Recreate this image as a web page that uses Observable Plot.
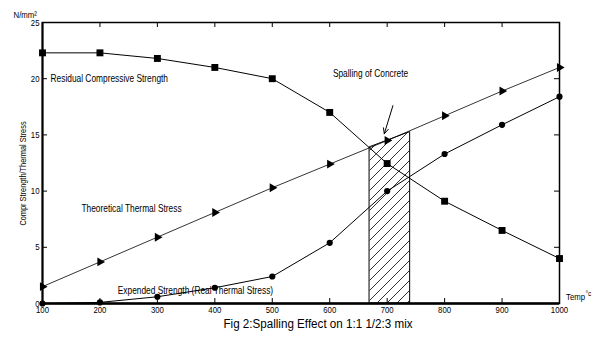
<!DOCTYPE html>
<html>
<head>
<meta charset="utf-8">
<script src="https://cdn.jsdelivr.net/npm/d3@7"></script>
<script src="https://cdn.jsdelivr.net/npm/@observablehq/plot@0.6"></script>
<style>
  html, body { margin: 0; padding: 0; background: #fff; }
</style>
</head>
<body>
<div id="chart"></div>
<script>
// ---- data ----
const temps = [100, 200, 300, 400, 500, 600, 700, 800, 900, 1000];
const residual = [22.3, 22.3, 21.8, 21.0, 20.0, 17.0, 12.45, 9.1, 6.5, 4.0];
const theoretical = [1.5, 3.7, 5.9, 8.1, 10.3, 12.4, 14.5, 16.7, 18.9, 21.0];
const expended = [0, 0.1, 0.6, 1.4, 2.4, 5.4, 10.0, 13.3, 15.9, 18.4];

const spallX = [670, 740];
const spallTop = [13.9, 15.25];

const arrowFrom = [710, 17.6];
const arrowTo = [695, 15.1];

const xTicks = [100, 200, 300, 400, 500, 600, 700, 800, 900, 1000];
const yTicks = [0, 5, 10, 15, 20, 25];
const innerX = [200, 300, 400, 500, 600, 700, 800, 900];
const innerY = [5, 10, 15, 20];

const startLabels = [
  {text: "Residual Compressive Strength", x: 114, y: 20.0},
  {text: "Expended Strength (Real Thermal Stress)", x: 231, y: 1.15}
];
const middleLabels = [
  {text: "Spalling of Concrete", x: 671, y: 20.4},
  {text: "Theoretical Thermal Stress", x: 255, y: 8.45}
];
const yTitle = "Compr Strength/Thermal Stress";
const yUnit = "N/mm\u00b2";
const xTitle = "Temp";
const xUnit = "\u00b0c";
const caption = "Fig 2:Spalling Effect on 1:1 1/2:3 mix";

// ---- build tables ----
const rows = (vals) => temps.map((t, i) => ({t, v: vals[i]}));
const resRows = rows(residual);
const theoRows = rows(theoretical);
const expRows = rows(expended);
const spallRows = spallX.map((x, i) => ({x, top: spallTop[i]}));

const font = "'Liberation Sans', Arial, sans-serif";
const W = 600, H = 339;
const mL = 42, mR = 41, mT = 22, mB = 36;
const fw = W - mL - mR, fh = H - mT - mB;

const plot = Plot.plot({
  width: W,
  height: H,
  marginLeft: mL,
  marginRight: mR,
  marginTop: mT,
  marginBottom: mB,
  style: {fontFamily: font, fontSize: "9.5px", color: "black", background: "white", overflow: "visible"},
  x: {domain: [100, 1000]},
  y: {domain: [0, 25]},
  marks: [
    // hatched spalling area
    Plot.areaY(spallRows, {x: "x", y1: 0, y2: "top", fill: "url(#hatch)", stroke: "black", strokeWidth: 1, curve: "linear"}),
    // series lines
    Plot.line(resRows, {x: "t", y: "v", stroke: "black", strokeWidth: 1}),
    Plot.line(theoRows, {x: "t", y: "v", stroke: "black", strokeWidth: 0.8}),
    Plot.line(expRows, {x: "t", y: "v", stroke: "black", strokeWidth: 1}),
    // markers
    Plot.dot(resRows, {x: "t", y: "v", symbol: "square", r: 3.9, fill: "black", stroke: "none"}),
    Plot.dot(theoRows, {x: "t", y: "v", symbol: "triangle", r: 3.3, rotate: 90, fill: "black", stroke: "none"}),
    Plot.dot(expRows, {x: "t", y: "v", symbol: "circle", r: 3.1, fill: "black", stroke: "none"}),
    // arrow
    Plot.arrow([0], {x1: () => arrowFrom[0], y1: () => arrowFrom[1], x2: () => arrowTo[0], y2: () => arrowTo[1], stroke: "black", strokeWidth: 1, headLength: 9, headAngle: 50}),
    // frame
    Plot.frame({stroke: "black", strokeWidth: 1.5}),
    Plot.ruleY([0], {stroke: "black", strokeWidth: 2.5}),
    Plot.ruleX([100], {stroke: "black", strokeWidth: 2}),
    // inward ticks
    Plot.tickY(innerY, {y: d => d, insetRight: fw - 5, stroke: "black", strokeWidth: 1}),
    Plot.tickY(innerY, {y: d => d, insetLeft: fw - 5, stroke: "black", strokeWidth: 1}),
    Plot.tickX(innerX, {x: d => d, insetBottom: fh - 5, stroke: "black", strokeWidth: 1}),
    Plot.tickX(innerX, {x: d => d, insetTop: fh - 5, stroke: "black", strokeWidth: 1}),
    // tick labels
    Plot.axisX(xTicks, {anchor: "bottom", tickSize: 0, tickPadding: 3, fontSize: 9.5, tickFormat: d => String(d), label: null}),
    Plot.axisY(yTicks, {anchor: "left", tickSize: 0, tickPadding: 3, fontSize: 9.5, tickFormat: d => String(d), label: null}),
    // series labels
    Plot.text(startLabels, {x: "x", y: "y", text: "text", textAnchor: "start", fontSize: 10.2, fill: "black"}),
    Plot.text(middleLabels, {x: "x", y: "y", text: "text", textAnchor: "middle", fontSize: 10.2, fill: "black"}),
    // axis titles
    Plot.text([yTitle], {frameAnchor: "left", textAnchor: "middle", rotate: -90, dx: -19, dy: 10.5, fontSize: 9, fill: "black"}),
    Plot.text([yUnit], {frameAnchor: "top-left", textAnchor: "start", dx: -29, dy: -11, fontSize: 9.5, fill: "black"}),
    Plot.text([xTitle], {frameAnchor: "bottom-right", textAnchor: "start", dx: 6.5, dy: -4, fontSize: 9.5, fill: "black"}),
    Plot.text([xUnit], {frameAnchor: "bottom-right", textAnchor: "start", dx: 26, dy: -8, fontSize: 8, fill: "black"}),
    // caption
    Plot.text([caption], {frameAnchor: "bottom", textAnchor: "middle", dx: 17, dy: 24.5, fontSize: 12.5, fill: "black"})
  ]
});

// hatch pattern
const ns = "http://www.w3.org/2000/svg";
const defs = document.createElementNS(ns, "defs");
defs.innerHTML = `<pattern id="hatch" patternUnits="userSpaceOnUse" width="10" height="10">
  <path d="M-1,11 L11,-1 M-6,6 L6,-6 M4,16 L16,4" stroke="black" stroke-width="0.8" fill="none"/>
</pattern>`;
plot.insertBefore(defs, plot.firstChild);

document.getElementById("chart").appendChild(plot);

// emulate the narrow typeface of the original: compress glyphs horizontally
plot.querySelectorAll("text").forEach(t => {
  if (t.querySelector("tspan")) return;
  const s = t.textContent === caption ? 0.93 : 0.82;
  const len = t.getComputedTextLength();
  if (len > 0) {
    t.setAttribute("textLength", (len * s).toFixed(2));
    t.setAttribute("lengthAdjust", "spacingAndGlyphs");
  }
});
</script>
</body>
</html>
